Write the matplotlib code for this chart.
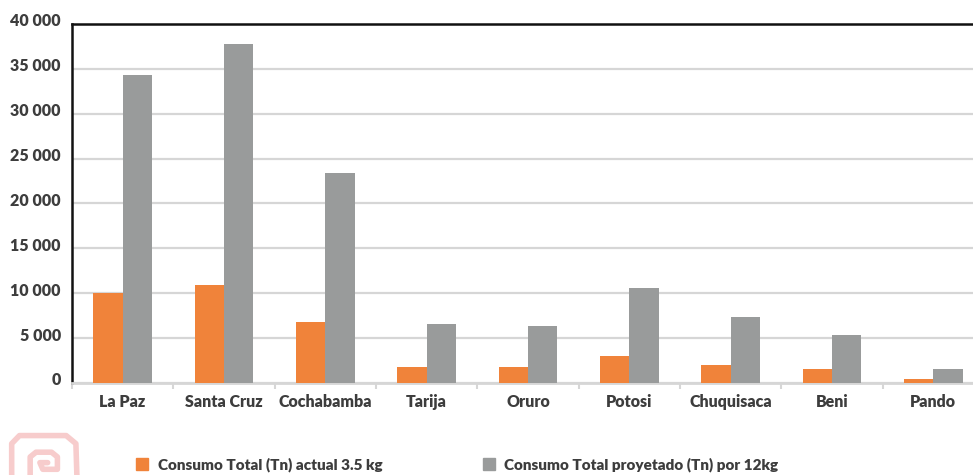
import matplotlib.pyplot as plt
import matplotlib.transforms as mtransforms
import numpy as np
from matplotlib.lines import Line2D
from matplotlib.ticker import FuncFormatter

plt.rcParams['font.family'] = ['Lato', 'DejaVu Sans']

departamentos = ['La Paz', 'Santa Cruz', 'Cochabamba', 'Tarija', 'Oruro',
                 'Potosi', 'Chuquisaca', 'Beni', 'Pando']
actual_35kg = [10000, 10900, 6800, 1800, 1800, 3050, 2000, 1550, 420]
proyectado_12kg = [34300, 37800, 23400, 6550, 6300, 10600, 7350, 5350, 1550]
y_ticks = [0, 5000, 10000, 15000, 20000, 25000, 30000, 35000, 40000]
leyenda = ['Consumo Total (Tn) actual 3.5 kg', 'Consumo Total proyetado (Tn) por 12kg']

NARANJA = '#f0833a'
GRIS = '#999b9b'
TEXTO = '#3d3d3d'

fig = plt.figure(figsize=(9.73, 4.75), dpi=100)
ax = fig.add_axes([0.074, 0.1937, 0.9373, 0.7558])

x = np.arange(len(departamentos))
w = 0.29
ax.bar(x - w / 2, actual_35kg, w, color=NARANJA, zorder=3)
ax.bar(x + w / 2, proyectado_12kg, w, color=GRIS, zorder=3)

ax.set_xlim(-0.5, len(departamentos) - 0.5)
ax.set_ylim(0, 40000)
ax.set_yticks(y_ticks)
ax.yaxis.set_major_formatter(FuncFormatter(lambda v, p: f'{int(v):,}'.replace(',', ' ')))
ax.set_xticks(x)
ax.set_xticklabels(departamentos)
ax.set_xticks(np.arange(len(departamentos) + 1) - 0.5, minor=True)

ax.grid(axis='y', color='#d6d6d6', linewidth=1.6, zorder=0)
for s in ['left', 'top']:
    ax.spines[s].set_color('#111111')
    ax.spines[s].set_linewidth(1.8)
ax.spines['right'].set_visible(False)
ax.spines['bottom'].set_color('#d6d6d6')
ax.spines['bottom'].set_linewidth(2)

ax.tick_params(axis='y', length=0, pad=8, labelsize=11.5, labelcolor=TEXTO)
ax.tick_params(axis='x', which='major', length=0, pad=8, labelsize=11.5, labelcolor=TEXTO)
ax.tick_params(axis='x', which='minor', length=4, width=1.5, color='#d6d6d6')
for lbl in ax.get_xticklabels() + ax.get_yticklabels():
    lbl.set_fontweight('heavy')
# las etiquetas del eje y quedan un poco por encima de las lineas
subir = mtransforms.ScaledTranslation(0, 4 / 100, fig.dpi_scale_trans)
for lbl in ax.get_yticklabels():
    lbl.set_transform(lbl.get_transform() + subir)

# logo decorativo abajo a la izquierda
rosa = '#f7cccc'
fig.add_artist(Line2D([0.012, 0.012, 0.02, 0.068, 0.078, 0.079],
                      [0.0, 0.066, 0.083, 0.083, 0.066, 0.0],
                      transform=fig.transFigure, color=rosa, lw=4,
                      solid_capstyle='round', solid_joinstyle='round'))
fig.add_artist(Line2D([0.031, 0.031, 0.037, 0.053, 0.059, 0.059, 0.044, 0.041, 0.049],
                      [0.0, 0.038, 0.048, 0.048, 0.038, 0.012, 0.012, 0.026, 0.026],
                      transform=fig.transFigure, color=rosa, lw=4,
                      solid_capstyle='round', solid_joinstyle='round'))

handles = [Line2D([], [], marker='s', ls='', color=NARANJA, markersize=8.5),
           Line2D([], [], marker='s', ls='', color=GRIS, markersize=8.5)]
leg = fig.legend(handles, leyenda, loc='center left', bbox_to_anchor=(0.140, 0.022),
                 ncol=2, frameon=False, handlelength=0.8, handletextpad=0.6,
                 columnspacing=6.6, borderpad=0, borderaxespad=0,
                 prop={'size': 11, 'weight': 'heavy'})
for t in leg.get_texts():
    t.set_color(TEXTO)

fig.savefig('out.png', dpi=100)
